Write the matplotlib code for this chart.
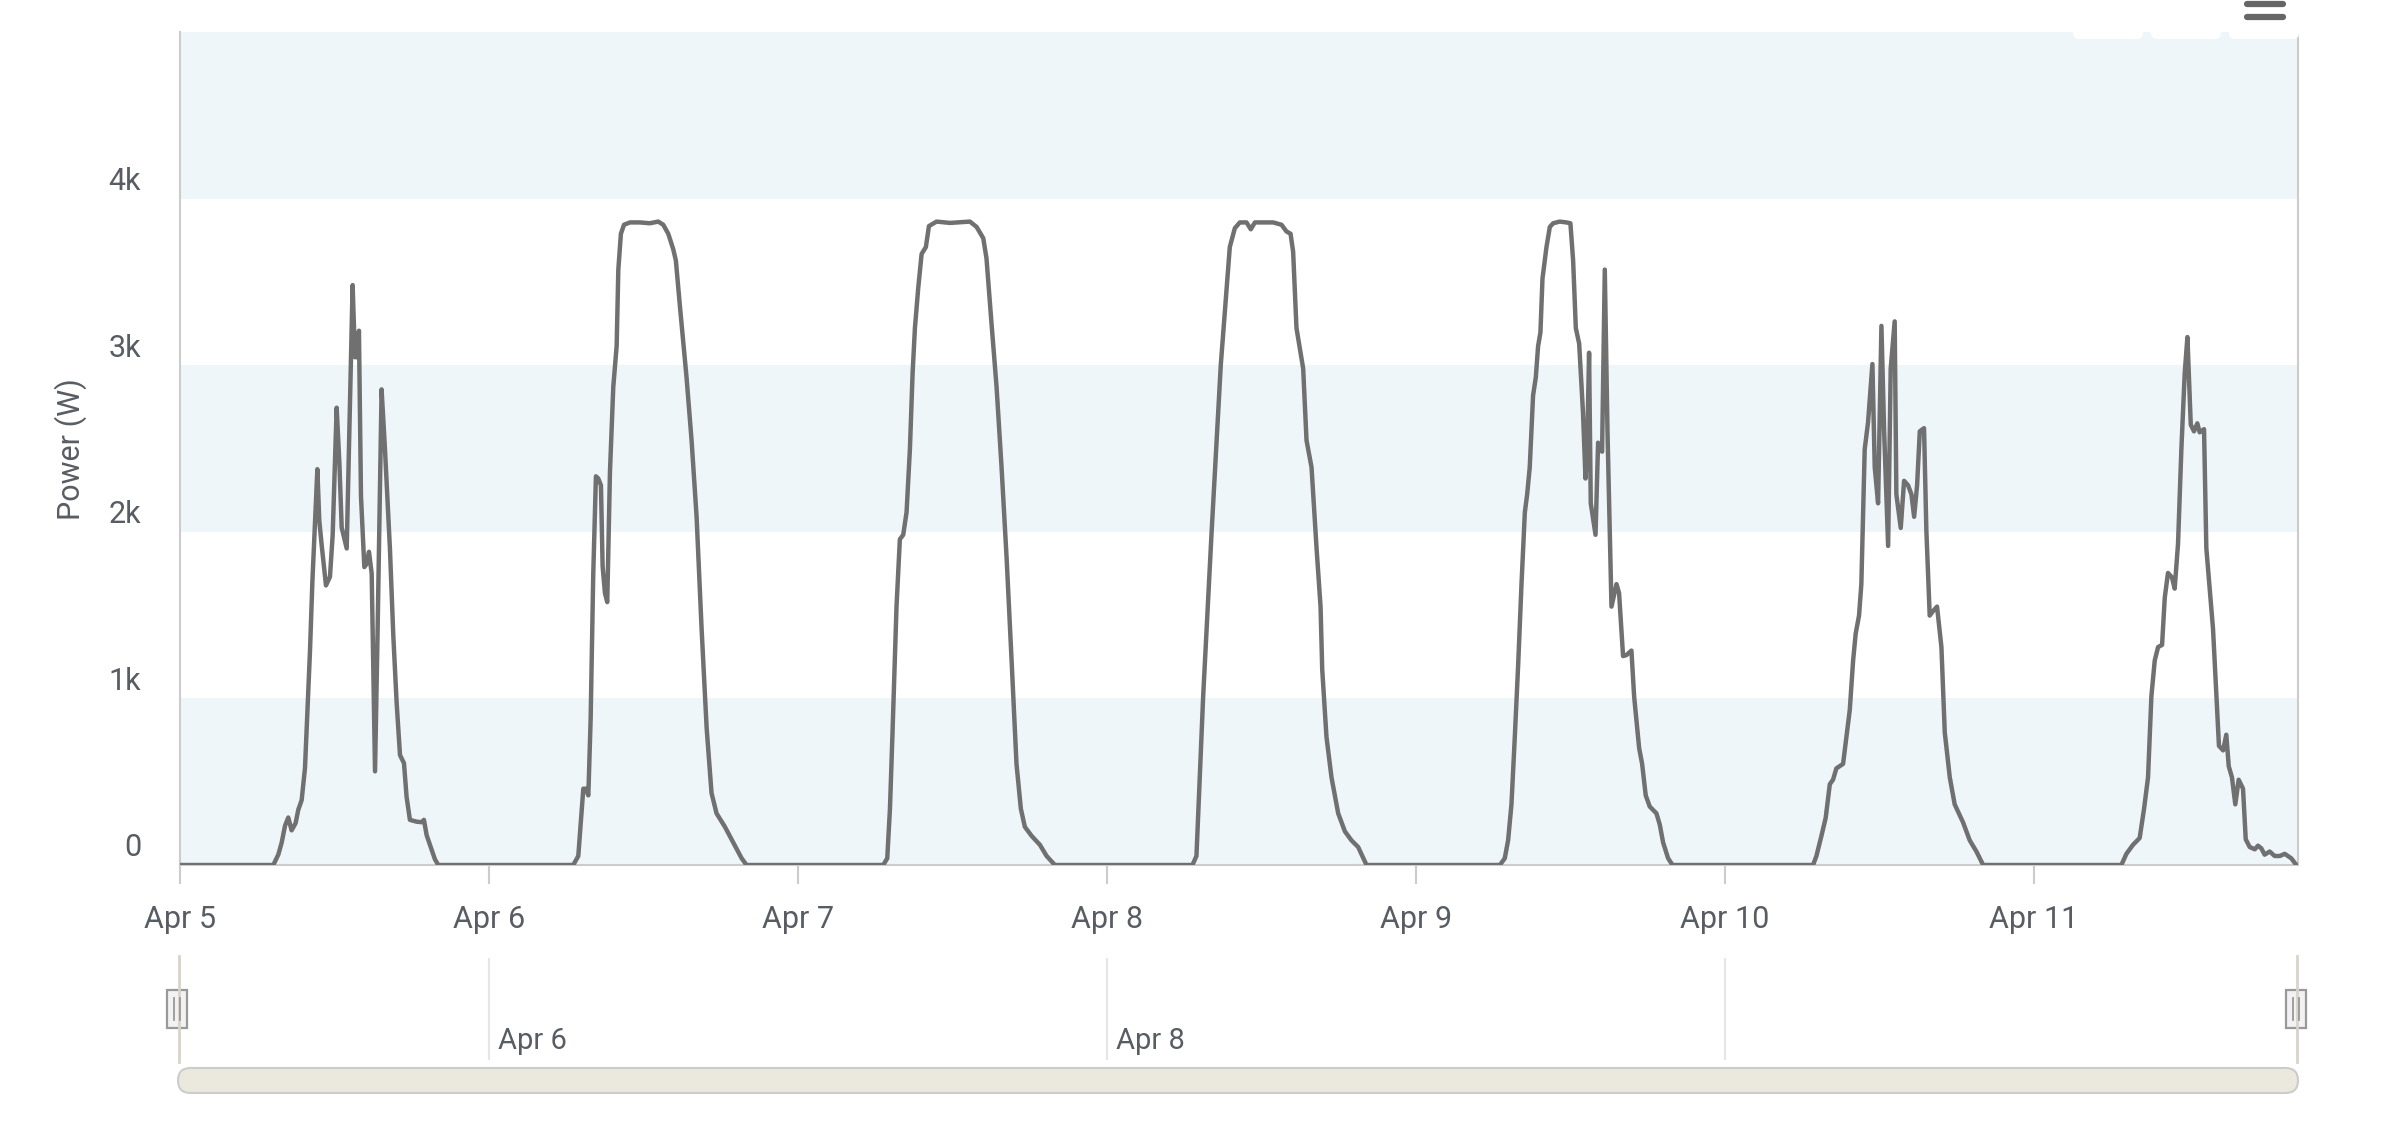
import matplotlib
matplotlib.use('Agg')
from matplotlib import pyplot as plt
from matplotlib.patches import FancyBboxPatch, Rectangle

plt.rcParams['font.family'] = ['Roboto', 'DejaVu Sans']

# axis labels
day_labels = ['Apr 5', 'Apr 6', 'Apr 7', 'Apr 8', 'Apr 9', 'Apr 10', 'Apr 11']
nav_labels = {1: 'Apr 6', 3: 'Apr 8', 5: None}
power_ticks = [0, 1000, 2000, 3000, 4000]
power_labels = ['0', '1k', '2k', '3k', '4k']

# hour of the day / power (W), one pair per day
apr5_h = [7.25, 7.64, 7.9, 8.16, 8.41, 8.67, 8.98, 9.19, 9.45, 9.71, 10.1, 10.28, 10.67, 10.82,
          11.0, 11.34, 11.65, 11.86, 12.17, 12.38, 12.56, 12.95, 13.41, 13.59, 13.77, 13.9,
          14.06, 14.32, 14.5, 14.68, 14.89, 15.15, 15.35, 15.66, 15.92, 16.31, 16.57, 16.83,
          17.09, 17.4, 17.6, 17.86, 18.38, 18.77, 18.95, 19.16, 19.55, 19.8, 20.06]
apr5_w = [0, 63, 135, 236, 285, 208, 251, 332, 389, 583, 1289, 1693, 2376, 2068,
          1924, 1678, 1730, 1981, 2745, 2414, 2025, 1900, 3481, 3048, 3048, 3207,
          2212, 1788, 1808, 1880, 1750, 562, 1404, 2855, 2500, 1895, 1376, 972,
          660, 611, 410, 271, 260, 257, 271, 179, 92, 35, 0]

apr6_h = [6.55, 6.94, 7.33, 7.53, 7.72, 7.9, 8.1, 8.31, 8.49, 8.7, 8.83, 9.01, 9.19, 9.4,
          9.66, 9.92, 10.05, 10.25, 10.49, 10.95, 11.73, 12.5, 13.15, 13.54, 13.93, 14.32,
          14.52, 14.83, 15.35, 15.74, 16.13, 16.52, 16.91, 17.29, 17.68, 18.33, 18.98,
          19.63, 20.01]
apr6_w = [0, 54, 458, 458, 418, 877, 1740, 2333, 2320, 2279, 1793, 1632, 1578, 2360,
          2872, 3115, 3574, 3789, 3843, 3857, 3857, 3852, 3862, 3843, 3789, 3695,
          3628, 3358, 2926, 2549, 2090, 1416, 823, 432, 310, 229, 135,
          40, 0]

apr7_h = [6.63, 6.94, 7.15, 7.35, 7.66, 7.92, 8.18, 8.44, 8.7, 8.91, 9.09, 9.35, 9.61, 9.94,
          10.18, 10.77, 11.81, 13.36, 13.88, 14.4, 14.65, 15.04, 15.43, 15.82, 16.21, 16.6,
          16.98, 17.32, 17.63, 18.15, 18.8, 19.32, 19.96]
apr7_w = [0, 40, 337, 796, 1551, 1955, 1982, 2117, 2495, 2953, 3223, 3466, 3668, 3709,
          3835, 3862, 3854, 3862, 3830, 3762, 3641, 3250, 2872, 2387, 1847, 1227,
          607, 337, 229, 175, 121, 54, 0]

apr8_h = [6.65, 6.96, 7.48, 8.13, 8.85, 9.55, 9.94, 10.33, 10.85, 11.18, 11.5, 12.92, 13.57,
          13.95, 14.27, 14.47, 14.73, 15.25, 15.51, 15.9, 16.29, 16.6, 16.73, 17.06, 17.45,
          17.97, 18.49, 19.0, 19.52, 20.17]
apr8_w = [0, 54, 1011, 1988, 3002, 3709, 3822, 3857, 3857, 3816, 3857, 3857, 3843,
          3803, 3789, 3681, 3223, 2980, 2549, 2387, 1901, 1551, 1173, 769, 526,
          310, 202, 148, 108, 0]

apr9_h = [6.53, 6.91, 7.17, 7.43, 7.69, 7.95, 8.21, 8.47, 8.65, 8.85, 9.11, 9.32, 9.5, 9.68,
          9.84, 10.15, 10.41, 10.67, 11.18, 11.7, 12.01, 12.22, 12.43, 12.69, 12.99, 13.18,
          13.31, 13.46, 13.59, 13.96, 14.16, 14.47, 14.68, 14.89, 15.2, 15.59, 15.79, 16.1,
          16.36, 16.75, 16.96, 17.35, 17.58, 17.86, 18.17, 18.69, 18.95, 19.21, 19.6, 19.94]
apr9_w = [0, 40, 148, 364, 769, 1200, 1686, 2117, 2225, 2387, 2819, 2926, 3115, 3196,
          3520, 3709, 3830, 3852, 3862, 3857, 3852, 3628, 3223, 3129, 2711, 2320,
          2495, 3075, 2171, 1982, 2535, 2481, 3574, 2603, 1551, 1686, 1632, 1254,
          1260, 1287, 1011, 701, 607, 418, 351, 310, 243, 135, 40, 0]

apr10_h = [6.86, 7.12, 7.51, 7.84, 8.16, 8.41, 8.67, 9.19, 9.45, 9.71, 9.97, 10.17, 10.43,
           10.61, 10.87, 11.13, 11.47, 11.65, 11.91, 12.17, 12.38, 12.69, 12.89, 13.2, 13.33,
           13.67, 13.93, 14.24, 14.5, 14.71, 14.94, 15.15, 15.48, 15.66, 15.92, 16.18, 16.49,
           16.83, 17.09, 17.48, 17.86, 18.51, 19.03, 19.55, 20.07]
apr10_w = [0, 54, 175, 283, 485, 512, 580, 607, 769, 930, 1227, 1389, 1497,
           1686, 2495, 2657, 3007, 2387, 2171, 3236, 2603, 1915, 2980, 3263, 2225,
           2023, 2306, 2279, 2225, 2090, 2279, 2603, 2622, 2009, 1497, 1524, 1551,
           1308, 796, 526, 364, 256, 148, 81, 0]

apr11_h = [6.81, 7.2, 7.71, 8.23, 8.57, 8.88, 9.14, 9.4, 9.66, 9.97, 10.18, 10.43, 10.74,
           10.95, 11.21, 11.47, 11.73, 11.94, 12.2, 12.45, 12.71, 12.89, 13.23, 13.41, 13.93,
           14.39, 14.71, 14.96, 15.15, 15.4, 15.66, 15.92, 16.26, 16.47, 16.78, 17.17, 17.42,
           17.68, 17.94, 18.33, 18.72, 19.11, 19.5, 20.01, 20.4]
apr11_w = [0, 67, 121, 162, 337, 526, 1011, 1227, 1308, 1321, 1605, 1753, 1726,
           1659, 1928, 2495, 2953, 3169, 2643, 2603, 2651, 2597, 2616, 1901, 1416,
           715, 688, 782, 593, 526, 364, 512, 458, 154, 108, 94, 116,
           100, 62, 81, 54, 54, 67, 40, 0]

days = [(apr5_h, apr5_w), (apr6_h, apr6_w), (apr7_h, apr7_w), (apr8_h, apr8_w),
        (apr9_h, apr9_w), (apr10_h, apr10_w), (apr11_h, apr11_w)]

# x in days since Apr 5 00:00
x = [0.0]
y = [0]
for i, (hours, watts) in enumerate(days):
    for h, w in zip(hours, watts):
        x.append(i + h / 24)
        y.append(w)

W, H = 2385, 1125
x_end = 6 + 20.53 / 24
txt = '#585c63'
fs = 22

fig = plt.figure(figsize=(W / 100, H / 100), dpi=100)

# main plot
ax = fig.add_axes([180 / W, 1 - 865 / H, 2118 / W, 833 / H])
ax.set_xlim(0, x_end)
ax.set_ylim(0, 5000)
for lo in (0, 2000, 4000):
    ax.axhspan(lo, lo + 1000, color='#eff6fa', lw=0, zorder=0)
ax.plot(x, y, color='#707070', lw=3.2, solid_joinstyle='round', solid_capstyle='round', zorder=3)

ax.spines['top'].set_visible(False)
for s in ('left', 'right', 'bottom'):
    ax.spines[s].set_color('#cccccc')
    ax.spines[s].set_linewidth(1.5)

ax.set_xticks(range(len(day_labels)))
ax.set_xticklabels(day_labels)
ax.tick_params(axis='x', length=14, width=1.5, color='#cccccc', pad=15,
               labelsize=fs, labelcolor=txt)
ax.set_yticks([])
for v, lab in zip(power_ticks, power_labels):
    ax.annotate(lab, xy=(0, v), xycoords=('axes fraction', 'data'),
                xytext=(-39, 17), textcoords='offset pixels',
                ha='right', va='center', fontsize=fs, color=txt)

fig.text(71 / W, 1 - 449 / H, 'Power (W)', rotation=90, ha='center', va='center',
         fontsize=fs, color=txt)

# navigator
nav = fig.add_axes([180 / W, 1 - 1060 / H, 2118 / W, 102 / H])
nav.set_xlim(0, x_end)
nav.set_ylim(0, 1)
nav.axis('off')
for d, lab in nav_labels.items():
    nav.axvline(d, color='#e6e6e6', lw=1.5)
    if lab:
        nav.annotate(lab, xy=(d, 0.2), xytext=(9, -1), textcoords='offset pixels',
                     ha='left', va='center', fontsize=fs - 1, color=txt)

# decorations in pixel space
deco = fig.add_axes([0, 0, 1, 1])
deco.set_xlim(0, W)
deco.set_ylim(H, 0)
deco.axis('off')

for bx in (2073, 2151, 2229):
    deco.add_patch(FancyBboxPatch((bx, 5), 70, 34, boxstyle='round,pad=0,rounding_size=6',
                                  fc='white', ec='none'))
for by in (4, 16.5):
    deco.plot([2247, 2283], [by, by], color='#666666', lw=4.5, solid_capstyle='round')

for ex in (179, 2297):
    deco.plot([ex, ex], [956, 1062], color='#d8d4c8', lw=2)
for hx in (177, 2296):
    deco.add_patch(Rectangle((hx - 10, 990), 20, 38, fc='#f2f2f2', ec='#999999', lw=1.6))
    for off in (-3, 3):
        deco.plot([hx + off, hx + off], [998, 1020], color='#999999', lw=1.3)

deco.add_patch(FancyBboxPatch((178, 1068), 2120, 25, boxstyle='round,pad=0,rounding_size=12.5',
                              fc='#ebe8dd', ec='#cccccc', lw=1.5))

fig.savefig('out.png', dpi=100)
